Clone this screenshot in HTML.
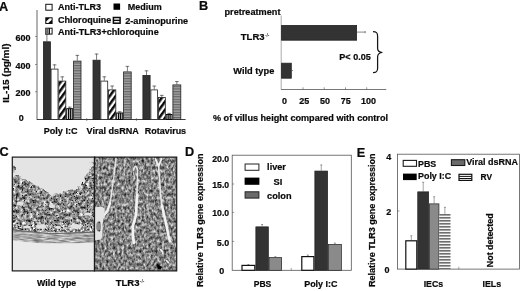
<!DOCTYPE html>
<html lang="en"><head><meta charset="utf-8"><title>Figure</title>
<style>
html,body{margin:0;padding:0;background:#fff;}
body{width:520px;height:291px;overflow:hidden;}
svg{display:block;}
text{font-family:'Liberation Sans', Arial, Helvetica, sans-serif;font-weight:bold;fill:#0a0a0a;stroke:#0a0a0a;stroke-width:0.22;}
</style></head><body>
<svg width="520" height="291" viewBox="0 0 520 291">
<defs>
<pattern id="diag" width="4.8" height="4.8" patternUnits="userSpaceOnUse" patternTransform="rotate(-54)">
<rect width="4.8" height="4.8" fill="#fff"/><rect width="4.8" height="2.5" fill="#0a0a0a"/></pattern>
<pattern id="vstr" x="0.4" width="2.33" height="4" patternUnits="userSpaceOnUse">
<rect width="2.33" height="4" fill="#fff"/><rect width="1.1" height="4" fill="#222"/></pattern>
<pattern id="hstr" width="4" height="2.6" patternUnits="userSpaceOnUse">
<rect width="4" height="2.6" fill="#a2a2a2"/><rect width="4" height="1.2" fill="#666"/></pattern>
<pattern id="rv" y="1.35" width="4" height="3" patternUnits="userSpaceOnUse">
<rect width="4" height="3" fill="#fff"/><rect width="4" height="1.1" fill="#222"/></pattern>
</defs>
<rect width="520" height="291" fill="#fff"/>

<g id="panelA">
<text x="-1.0" y="10.8" font-size="12.7" stroke-width="0.4">A</text>
<line x1="37.00" y1="10.00" x2="37.00" y2="119.90" stroke="#555" stroke-width="0.9"/>
<line x1="37.00" y1="119.50" x2="185.60" y2="119.50" stroke="#2a2a2a" stroke-width="0.9"/>
<text x="30.6" y="95.89999999999999" font-size="9.5" text-anchor="end" textLength="15" lengthAdjust="spacingAndGlyphs" >200</text>
<line x1="35.00" y1="91.70" x2="37.00" y2="91.70" stroke="#555" stroke-width="0.6"/>
<text x="30.6" y="68.7" font-size="9.5" text-anchor="end" textLength="15" lengthAdjust="spacingAndGlyphs" >400</text>
<line x1="35.00" y1="64.50" x2="37.00" y2="64.50" stroke="#555" stroke-width="0.6"/>
<text x="30.6" y="40.699999999999996" font-size="9.5" text-anchor="end" textLength="15" lengthAdjust="spacingAndGlyphs" >600</text>
<line x1="35.00" y1="36.50" x2="37.00" y2="36.50" stroke="#555" stroke-width="0.6"/>
<text x="23.8" y="121.3" font-size="9.5" text-anchor="end" textLength="5" lengthAdjust="spacingAndGlyphs" >0</text>
<text transform="translate(9,73.1) rotate(-90)" font-size="9.5" text-anchor="middle" textLength="59.4" lengthAdjust="spacingAndGlyphs">IL-15 (pg/ml)</text>
<line x1="46.90" y1="41.40" x2="46.90" y2="33.70" stroke="#444" stroke-width="0.7"/>
<line x1="45.10" y1="34.05" x2="48.70" y2="34.05" stroke="#444" stroke-width="0.7"/>
<rect x="43.40" y="41.80" width="7.00" height="77.70" fill="#333" stroke="#222" stroke-width="0.8" />
<line x1="54.55" y1="68.70" x2="54.55" y2="64.50" stroke="#444" stroke-width="0.7"/>
<line x1="52.75" y1="64.85" x2="56.35" y2="64.85" stroke="#444" stroke-width="0.7"/>
<rect x="51.10" y="69.10" width="6.90" height="50.40" fill="#fff" stroke="#222" stroke-width="0.8" />
<line x1="62.30" y1="80.70" x2="62.30" y2="76.50" stroke="#444" stroke-width="0.7"/>
<line x1="60.50" y1="76.85" x2="64.10" y2="76.85" stroke="#444" stroke-width="0.7"/>
<rect x="58.80" y="81.10" width="7.00" height="38.40" fill="url(#diag)" stroke="#222" stroke-width="0.8" />
<line x1="69.70" y1="108.20" x2="69.70" y2="106.80" stroke="#444" stroke-width="0.7"/>
<line x1="67.90" y1="107.15" x2="71.50" y2="107.15" stroke="#444" stroke-width="0.7"/>
<rect x="66.70" y="108.70" width="6.00" height="10.80" fill="#fff" stroke="#0a0a0a" stroke-width="1.0" />
<line x1="68.68" y1="108.60" x2="68.68" y2="119.50" stroke="#0a0a0a" stroke-width="1.35"/>
<line x1="70.72" y1="108.60" x2="70.72" y2="119.50" stroke="#0a0a0a" stroke-width="1.35"/>
<line x1="77.30" y1="60.70" x2="77.30" y2="55.00" stroke="#444" stroke-width="0.7"/>
<line x1="75.50" y1="55.35" x2="79.10" y2="55.35" stroke="#444" stroke-width="0.7"/>
<rect x="73.60" y="61.10" width="7.40" height="58.40" fill="url(#hstr)" stroke="#222" stroke-width="0.8" />
<line x1="96.55" y1="59.80" x2="96.55" y2="53.70" stroke="#444" stroke-width="0.7"/>
<line x1="94.75" y1="54.05" x2="98.35" y2="54.05" stroke="#444" stroke-width="0.7"/>
<rect x="93.00" y="60.20" width="7.10" height="59.30" fill="#333" stroke="#222" stroke-width="0.8" />
<line x1="104.30" y1="80.70" x2="104.30" y2="76.50" stroke="#444" stroke-width="0.7"/>
<line x1="102.50" y1="76.85" x2="106.10" y2="76.85" stroke="#444" stroke-width="0.7"/>
<rect x="100.90" y="81.10" width="6.80" height="38.40" fill="#fff" stroke="#222" stroke-width="0.8" />
<line x1="112.15" y1="89.50" x2="112.15" y2="85.70" stroke="#444" stroke-width="0.7"/>
<line x1="110.35" y1="86.05" x2="113.95" y2="86.05" stroke="#444" stroke-width="0.7"/>
<rect x="108.50" y="89.90" width="7.30" height="29.60" fill="url(#diag)" stroke="#222" stroke-width="0.8" />
<line x1="119.70" y1="112.50" x2="119.70" y2="111.40" stroke="#444" stroke-width="0.7"/>
<line x1="117.90" y1="111.75" x2="121.50" y2="111.75" stroke="#444" stroke-width="0.7"/>
<rect x="116.70" y="113.00" width="6.00" height="6.50" fill="#fff" stroke="#0a0a0a" stroke-width="1.0" />
<line x1="118.68" y1="112.90" x2="118.68" y2="119.50" stroke="#0a0a0a" stroke-width="1.35"/>
<line x1="120.72" y1="112.90" x2="120.72" y2="119.50" stroke="#0a0a0a" stroke-width="1.35"/>
<line x1="127.40" y1="71.50" x2="127.40" y2="66.00" stroke="#444" stroke-width="0.7"/>
<line x1="125.60" y1="66.35" x2="129.20" y2="66.35" stroke="#444" stroke-width="0.7"/>
<rect x="123.60" y="71.90" width="7.60" height="47.60" fill="url(#hstr)" stroke="#222" stroke-width="0.8" />
<line x1="146.50" y1="75.00" x2="146.50" y2="70.50" stroke="#444" stroke-width="0.7"/>
<line x1="144.70" y1="70.85" x2="148.30" y2="70.85" stroke="#444" stroke-width="0.7"/>
<rect x="142.90" y="75.40" width="7.20" height="44.10" fill="#333" stroke="#222" stroke-width="0.8" />
<line x1="154.25" y1="89.50" x2="154.25" y2="85.70" stroke="#444" stroke-width="0.7"/>
<line x1="152.45" y1="86.05" x2="156.05" y2="86.05" stroke="#444" stroke-width="0.7"/>
<rect x="150.90" y="89.90" width="6.70" height="29.60" fill="#fff" stroke="#222" stroke-width="0.8" />
<line x1="161.85" y1="97.00" x2="161.85" y2="95.00" stroke="#444" stroke-width="0.7"/>
<line x1="160.05" y1="95.35" x2="163.65" y2="95.35" stroke="#444" stroke-width="0.7"/>
<rect x="158.40" y="97.40" width="6.90" height="22.10" fill="url(#diag)" stroke="#222" stroke-width="0.8" />
<line x1="169.10" y1="114.00" x2="169.10" y2="113.00" stroke="#444" stroke-width="0.7"/>
<line x1="167.30" y1="113.35" x2="170.90" y2="113.35" stroke="#444" stroke-width="0.7"/>
<rect x="166.20" y="114.50" width="5.80" height="5.00" fill="#fff" stroke="#0a0a0a" stroke-width="1.0" />
<line x1="168.12" y1="114.40" x2="168.12" y2="119.50" stroke="#0a0a0a" stroke-width="1.35"/>
<line x1="170.08" y1="114.40" x2="170.08" y2="119.50" stroke="#0a0a0a" stroke-width="1.35"/>
<line x1="176.85" y1="84.50" x2="176.85" y2="81.20" stroke="#444" stroke-width="0.7"/>
<line x1="175.05" y1="81.55" x2="178.65" y2="81.55" stroke="#444" stroke-width="0.7"/>
<rect x="172.90" y="84.90" width="7.90" height="34.60" fill="url(#hstr)" stroke="#222" stroke-width="0.8" />
<line x1="86.70" y1="118.00" x2="86.70" y2="121.00" stroke="#555" stroke-width="0.6"/>
<line x1="136.40" y1="118.00" x2="136.40" y2="121.00" stroke="#555" stroke-width="0.6"/>
<text x="43.7" y="134" font-size="9.5" textLength="33.8" lengthAdjust="spacingAndGlyphs" >Poly I:C</text>
<text x="86.6" y="134" font-size="9.5" textLength="52.2" lengthAdjust="spacingAndGlyphs" >Viral dsRNA</text>
<text x="144.8" y="134" font-size="9.5" textLength="41.3" lengthAdjust="spacingAndGlyphs" >Rotavirus</text>
<rect x="45.80" y="4.30" width="6.30" height="5.90" fill="#fff" stroke="#111" stroke-width="1.0" />
<text x="58" y="9.9" font-size="9.5" textLength="43" lengthAdjust="spacingAndGlyphs" >Anti-TLR3</text>
<rect x="113.50" y="3.50" width="6.60" height="6.30" fill="#000" stroke="#000" stroke-width="0" />
<text x="127.7" y="10.1" font-size="9.5" textLength="34" lengthAdjust="spacingAndGlyphs" >Medium</text>
<rect x="45.80" y="17.80" width="6.30" height="5.70" fill="#0a0a0a" stroke="#111" stroke-width="1.0" />
<polygon points="46.3,23 46.3,21.2 49.6,18.3 51.6,18.3 51.6,20 48.3,23" fill="#fff"/>
<text x="58" y="22.8" font-size="9.5" textLength="53.3" lengthAdjust="spacingAndGlyphs" >Chloroquine</text>
<rect x="113.40" y="17.50" width="6.70" height="5.70" fill="#fff" stroke="#0a0a0a" stroke-width="1.5" />
<line x1="113.40" y1="20.35" x2="120.10" y2="20.35" stroke="#0a0a0a" stroke-width="1.4"/>
<text x="125.2" y="23.6" font-size="9.5" textLength="63.0" lengthAdjust="spacingAndGlyphs" >2-aminopurine</text>
<rect x="45.80" y="28.20" width="6.30" height="5.90" fill="#fff" stroke="#111" stroke-width="1.0" />
<rect x="46.20" y="28.60" width="2.00" height="5.10" fill="#666" stroke="none" stroke-width="0" />
<line x1="49.30" y1="28.20" x2="49.30" y2="34.10" stroke="#0a0a0a" stroke-width="1.3"/>
<text x="58" y="34.5" font-size="9.5" textLength="100.7" lengthAdjust="spacingAndGlyphs" >Anti-TLR3+chloroquine</text>
</g>
<g id="panelB">
<text x="199.1" y="10.4" font-size="12.7" stroke-width="0.4">B</text>
<text x="224.5" y="14.5" font-size="9.5" textLength="56" lengthAdjust="spacingAndGlyphs" >pretreatment</text>
<line x1="281.20" y1="15.50" x2="281.20" y2="89.90" stroke="#888" stroke-width="0.7"/>
<line x1="281.20" y1="89.50" x2="386.30" y2="89.50" stroke="#555" stroke-width="0.8"/>
<line x1="303.00" y1="89.50" x2="303.00" y2="87.30" stroke="#666" stroke-width="0.7"/>
<line x1="324.20" y1="89.50" x2="324.20" y2="87.30" stroke="#666" stroke-width="0.7"/>
<line x1="345.50" y1="89.50" x2="345.50" y2="87.30" stroke="#666" stroke-width="0.7"/>
<line x1="366.70" y1="89.50" x2="366.70" y2="87.30" stroke="#666" stroke-width="0.7"/>
<text x="284.5" y="104.1" font-size="9.5" text-anchor="middle" textLength="5" lengthAdjust="spacingAndGlyphs" >0</text>
<text x="304.2" y="104.1" font-size="9.5" text-anchor="middle" textLength="10" lengthAdjust="spacingAndGlyphs" >25</text>
<text x="325" y="104.1" font-size="9.5" text-anchor="middle" textLength="10" lengthAdjust="spacingAndGlyphs" >50</text>
<text x="345.8" y="104.1" font-size="9.5" text-anchor="middle" textLength="10" lengthAdjust="spacingAndGlyphs" >75</text>
<text x="368.4" y="104.1" font-size="9.5" text-anchor="middle" textLength="15" lengthAdjust="spacingAndGlyphs" >100</text>
<rect x="281.60" y="25.40" width="75.00" height="14.80" fill="#333" stroke="#222" stroke-width="0.8" />
<line x1="357.00" y1="32.10" x2="365.20" y2="32.10" stroke="#555" stroke-width="0.7"/>
<line x1="365.20" y1="31.00" x2="365.20" y2="33.20" stroke="#555" stroke-width="0.7"/>
<rect x="281.60" y="63.20" width="9.70" height="15.00" fill="#333" stroke="#222" stroke-width="0.8" />
<line x1="291.70" y1="70.50" x2="293.00" y2="70.50" stroke="#555" stroke-width="0.7"/>
<text x="240.8" y="39.5" font-size="9.5">TLR3<tspan font-size="4.8" dy="-2.9" dx="0.4" stroke="none" fill="#333">-/-</tspan></text>
<text x="233.3" y="73.6" font-size="9.5" textLength="41.0" lengthAdjust="spacingAndGlyphs" >Wild type</text>
<text x="339.3" y="60.2" font-size="9.8" textLength="31.5" lengthAdjust="spacingAndGlyphs" >P&lt; 0.05</text>
<path d="M373 31.6 C376.6 31.6 377.6 32.8 377.6 36 L377.6 48.2 C377.6 51 378.8 52.2 382.4 52.5 C378.8 52.8 377.6 54 377.6 57 L377.6 68.2 C377.6 71.4 376.6 72.6 373 72.6" fill="none" stroke="#151515" stroke-width="1.25"/>
<text x="213" y="120.7" font-size="9.5" textLength="175" lengthAdjust="spacingAndGlyphs" >% of villus height compared with control</text>
</g>
<g id="panelC">
<text x="-0.5" y="156.4" font-size="12.7" stroke-width="0.4">C</text>

<clipPath id="clipL"><rect x="12.3" y="157.1" width="82.2" height="113.8"/></clipPath>
<clipPath id="clipR"><rect x="94.5" y="157.1" width="82.2" height="113.8"/></clipPath>
<filter id="nzT" x="-5%" y="-5%" width="110%" height="110%" color-interpolation-filters="sRGB">
<feTurbulence type="fractalNoise" baseFrequency="0.2" numOctaves="2" seed="5" result="d"/>
<feDisplacementMap in="SourceGraphic" in2="d" scale="7" xChannelSelector="R" yChannelSelector="G" result="shape"/>
<feTurbulence type="fractalNoise" baseFrequency="0.3" numOctaves="3" seed="7" result="t"/>
<feColorMatrix in="t" type="matrix" values="1.35 0 0 0 -0.105  1.35 0 0 0 -0.105  1.35 0 0 0 -0.105  0 0 0 0 1" result="g"/>
<feGaussianBlur in="g" stdDeviation="0.4" result="gb"/>
<feComposite in="gb" in2="shape" operator="in"/>
</filter>
<filter id="nzS" x="0" y="0" width="100%" height="100%" color-interpolation-filters="sRGB">
<feTurbulence type="fractalNoise" baseFrequency="0.4" numOctaves="2" seed="21" result="t"/>
<feColorMatrix in="t" type="matrix" values="1.8 0 0 0 -0.280  1.8 0 0 0 -0.280  1.8 0 0 0 -0.280  0 0 0 0 1" result="g"/>
<feGaussianBlur in="g" stdDeviation="0.4" result="gb"/>
<feComposite in="gb" in2="SourceGraphic" operator="in"/>
</filter>
<filter id="spk" x="0" y="0" width="100%" height="100%" color-interpolation-filters="sRGB">
<feTurbulence type="fractalNoise" baseFrequency="0.55" numOctaves="2" seed="31" result="t"/>
<feColorMatrix in="t" type="matrix" values="0 0 0 0 0.08  0 0 0 0 0.08  0 0 0 0 0.08  7 0 0 0 -4.25" result="g"/>
<feGaussianBlur in="g" stdDeviation="0.35" result="gb"/>
<feComposite in="gb" in2="SourceGraphic" operator="in"/>
</filter>
<filter id="nzB" x="0" y="0" width="100%" height="100%" color-interpolation-filters="sRGB">
<feTurbulence type="fractalNoise" baseFrequency="0.12 0.7" numOctaves="2" seed="3" result="t"/>
<feColorMatrix in="t" type="matrix" values="0.75 0 0 0 0.285  0.75 0 0 0 0.285  0.75 0 0 0 0.285  0 0 0 0 1" result="g"/>
<feComposite in="g" in2="SourceGraphic" operator="in"/>
</filter>
<filter id="nzR" x="0" y="0" width="100%" height="100%" color-interpolation-filters="sRGB">
<feTurbulence type="fractalNoise" baseFrequency="0.45 0.3" numOctaves="2" seed="11" result="t"/>
<feColorMatrix in="t" type="matrix" values="1.15 0 0 0 -0.060  1.15 0 0 0 -0.060  1.15 0 0 0 -0.060  0 0 0 0 1" result="g"/>
<feGaussianBlur in="g" stdDeviation="0.45" result="gb"/>
<feComposite in="gb" in2="SourceGraphic" operator="in"/>
</filter>
<filter id="bl1" x="-20%" y="-20%" width="140%" height="140%"><feGaussianBlur stdDeviation="0.7"/></filter>
<filter id="bl2" x="-20%" y="-20%" width="140%" height="140%"><feGaussianBlur stdDeviation="1.4"/></filter>

<g clip-path="url(#clipL)">
<rect x="12" y="156.6" width="82.5" height="115" fill="#e4e4e4"/>
<path d="M11 212 L96 214 L96 233 L11 232 Z" fill="#ccc" filter="url(#nzS)"/>
<path d="M11 175 L13.6 176 L20 177.5 L26.5 180 L32 183 L37 186.5 L43 190 L48 193 L54 195 L61 193 L65 191.5 L69 190.8 L75 190 L80 187.5 L83 183 L85.5 178 L89 171 L91.5 164 L93.5 160 L96 158 L96 223 L84 224 L70 221 L60 225 L48 224 L36 221 L24 222 L11 219 Z M12 167 L15 166.5 L17 169 L16 172.5 L12 173 Z" fill="#666" filter="url(#nzT)"/>
<path d="M11 177 L30 183 L52 197 L75 191 L88 174 L96 160 L96 231 L11 230 Z" fill="#000" filter="url(#spk)"/>
<g fill="#e2e2e2" filter="url(#bl1)">
<ellipse cx="41.5" cy="226.5" rx="5" ry="2.3"/><ellipse cx="76" cy="226.5" rx="6" ry="2.6"/><ellipse cx="20" cy="203.5" rx="3.4" ry="2"/><ellipse cx="58" cy="227.5" rx="3" ry="1.4"/><ellipse cx="52" cy="206" rx="3" ry="2"/><ellipse cx="27" cy="227" rx="4" ry="1.3"/><ellipse cx="88" cy="214" rx="4" ry="1.6"/>
</g>
<path d="M11 229.3 L30 231.5 L51 233.5 L76 232.5 L96 231.8 L96 242.5 L76 243.4 L43 243.4 L25 242 L11 240 Z" fill="#8e8e8e" filter="url(#nzB)"/>
<path d="M11 229.6 L30 231.8 L51 233.8 L76 232.8 L96 232.1" fill="none" stroke="#666" stroke-width="1.1" filter="url(#bl1)"/>
<path d="M11 240 L25 242 L43 243.4 L76 243.4 L96 242.5 L96 272 L11 272 Z" fill="#ebebeb"/>
</g>
<rect x="12.30" y="157.10" width="82.20" height="113.80" fill="none" stroke="#1a1a1a" stroke-width="1.2" />
<g clip-path="url(#clipR)">
<rect x="94" y="156.6" width="83" height="115" fill="#909090" filter="url(#nzR)"/>
<g fill="none" stroke="#f2f2f2" stroke-linecap="round" stroke-linejoin="round" filter="url(#bl1)">
<path d="M116 158 L113.5 180 L110 203" stroke-width="1.5" opacity="0.85"/>
<path d="M110 203 L107.5 211 L103.5 216" stroke-width="2.3"/>
<path d="M133.5 170 Q135.8 163 137.6 170 L137 195" stroke-width="1.6" opacity="0.9"/>
<path d="M137 195 L136 215 L132.9 226 L133 236 L133.8 243" stroke-width="2.7"/>
<path d="M155.5 159 L158.5 166 L161.5 159" stroke-width="1.8"/>
<path d="M158.5 165 L160.6 195 L162 206" stroke-width="1.7" opacity="0.9"/>
<path d="M162 206 L165.7 222 L168.6 236 L169.9 241.5" stroke-width="2.6"/>
<path d="M149.5 203 L148 215" stroke-width="1.1" opacity="0.6"/>
<path d="M125 160 L124 176" stroke-width="1.1" opacity="0.5"/>
<path d="M160.6 249.5 L162.6 252" stroke-width="1.6"/><path d="M166.6 260.5 L168.2 262.5" stroke-width="1.6"/>
</g>
<path d="M94 207.5 C99 206 103 206.5 104.6 208.5 C105.2 214 103 219 102.6 226 C102.2 232 103.2 236 101 239.5 L94 240.5 Z" fill="#e4e4e4" filter="url(#bl1)"/>
<ellipse cx="98.6" cy="226.5" rx="2.4" ry="5" fill="#8c8c8c" filter="url(#bl1)"/>
<circle cx="99.4" cy="222.4" r="0.9" fill="#333"/><circle cx="99.4" cy="230.6" r="0.9" fill="#333"/>
<path d="M156.5 263.5 L162 267 L160.5 269.8 L157.5 268.5 Z" fill="#000"/>
</g>
<rect x="94.50" y="157.10" width="82.20" height="113.80" fill="none" stroke="#1a1a1a" stroke-width="1.2" />
<text x="37" y="286" font-size="9.5" textLength="39.2" lengthAdjust="spacingAndGlyphs" >Wild type</text>
<text x="115.7" y="286.2" font-size="9.5">TLR3<tspan font-size="4.8" dy="-2.9" dx="0.4" stroke="none" fill="#333">-/-</tspan></text>
</g>
<g id="panelD">
<text x="185.1" y="156.4" font-size="12.7" stroke-width="0.4">D</text>
<text transform="translate(202.6,220.2) rotate(-90)" font-size="9.9" text-anchor="middle" textLength="133.6" lengthAdjust="spacingAndGlyphs">Relative TLR3 gene expression</text>
<rect x="232.20" y="155.20" width="119.10" height="115.10" fill="none" stroke="#555" stroke-width="0.8" />
<text x="229.2" y="246.1" font-size="9.9" text-anchor="end" textLength="12.4" lengthAdjust="spacingAndGlyphs" >5.0</text>
<line x1="232.20" y1="241.40" x2="234.20" y2="241.40" stroke="#555" stroke-width="0.6"/>
<text x="229.2" y="216.3" font-size="9.9" text-anchor="end" textLength="16.9" lengthAdjust="spacingAndGlyphs" >10.0</text>
<line x1="232.20" y1="212.40" x2="234.20" y2="212.40" stroke="#555" stroke-width="0.6"/>
<text x="229.2" y="188.1" font-size="9.9" text-anchor="end" textLength="16.9" lengthAdjust="spacingAndGlyphs" >15.0</text>
<line x1="232.20" y1="184.00" x2="234.20" y2="184.00" stroke="#555" stroke-width="0.6"/>
<text x="229.2" y="162.2" font-size="9.9" text-anchor="end" textLength="16.9" lengthAdjust="spacingAndGlyphs" >20.0</text>
<text x="224.2" y="274.1" font-size="9.9" text-anchor="end" textLength="5" lengthAdjust="spacingAndGlyphs" >0</text>
<line x1="291.20" y1="270.30" x2="291.20" y2="267.90" stroke="#666" stroke-width="0.6"/>
<line x1="248.40" y1="264.80" x2="248.40" y2="264.20" stroke="#666" stroke-width="0.6"/>
<line x1="247.40" y1="264.50" x2="249.40" y2="264.50" stroke="#666" stroke-width="0.6"/>
<rect x="242.00" y="265.40" width="12.80" height="4.90" fill="#fff" stroke="#111" stroke-width="1.2" />
<line x1="262.10" y1="226.50" x2="262.10" y2="224.20" stroke="#666" stroke-width="0.6"/>
<line x1="261.10" y1="224.50" x2="263.10" y2="224.50" stroke="#666" stroke-width="0.6"/>
<rect x="255.85" y="226.85" width="12.50" height="43.45" fill="#333" stroke="#222" stroke-width="0.7" />
<line x1="275.35" y1="257.20" x2="275.35" y2="256.40" stroke="#666" stroke-width="0.6"/>
<line x1="274.35" y1="256.70" x2="276.35" y2="256.70" stroke="#666" stroke-width="0.6"/>
<rect x="269.05" y="257.55" width="12.60" height="12.75" fill="#8a8a8a" stroke="#222" stroke-width="0.7" />
<line x1="307.85" y1="256.00" x2="307.85" y2="254.80" stroke="#666" stroke-width="0.6"/>
<line x1="306.85" y1="255.10" x2="308.85" y2="255.10" stroke="#666" stroke-width="0.6"/>
<rect x="301.80" y="256.60" width="12.10" height="13.70" fill="#fff" stroke="#111" stroke-width="1.2" />
<line x1="321.25" y1="170.70" x2="321.25" y2="164.70" stroke="#666" stroke-width="0.6"/>
<line x1="320.25" y1="165.00" x2="322.25" y2="165.00" stroke="#666" stroke-width="0.6"/>
<rect x="314.85" y="171.05" width="12.80" height="99.25" fill="#333" stroke="#222" stroke-width="0.7" />
<line x1="334.85" y1="244.00" x2="334.85" y2="242.80" stroke="#666" stroke-width="0.6"/>
<line x1="333.85" y1="243.10" x2="335.85" y2="243.10" stroke="#666" stroke-width="0.6"/>
<rect x="328.35" y="244.35" width="13.00" height="25.95" fill="#8a8a8a" stroke="#222" stroke-width="0.7" />
<rect x="245.10" y="164.00" width="13.80" height="6.30" fill="#fff" stroke="#222" stroke-width="1.0" />
<rect x="244.60" y="177.60" width="14.80" height="7.20" fill="#000" stroke="#000" stroke-width="0" />
<rect x="245.10" y="191.80" width="13.80" height="6.30" fill="#6a6a6a" stroke="#222" stroke-width="1.0" />
<text x="267.1" y="170.2" font-size="9.9" textLength="18.8" lengthAdjust="spacingAndGlyphs" >liver</text>
<text x="273.5" y="184.7" font-size="9.9" textLength="8.8" lengthAdjust="spacingAndGlyphs" >SI</text>
<text x="267.1" y="198.7" font-size="9.9" textLength="24.5" lengthAdjust="spacingAndGlyphs" >colon</text>
<text x="253.7" y="286.9" font-size="9.9" textLength="17.6" lengthAdjust="spacingAndGlyphs" >PBS</text>
<text x="304.2" y="286.9" font-size="9.9" textLength="33.3" lengthAdjust="spacingAndGlyphs" >Poly I:C</text>
</g>
<g id="panelE">
<text x="356.8" y="156.8" font-size="12.7" stroke-width="0.4">E</text>
<text transform="translate(374.9,220.2) rotate(-90)" font-size="9.9" text-anchor="middle" textLength="133.6" lengthAdjust="spacingAndGlyphs">Relative TLR3 gene expression</text>
<rect x="397.50" y="154.20" width="121.90" height="114.90" fill="none" stroke="#555" stroke-width="0.8" />
<text x="391.2" y="159.5" font-size="9.9" text-anchor="end" textLength="5" lengthAdjust="spacingAndGlyphs" >4</text>
<text x="391.2" y="215.2" font-size="9.9" text-anchor="end" textLength="5" lengthAdjust="spacingAndGlyphs" >2</text>
<text x="389.6" y="273.0" font-size="9.9" text-anchor="end" textLength="5" lengthAdjust="spacingAndGlyphs" >0</text>
<line x1="397.50" y1="211.00" x2="399.50" y2="211.00" stroke="#555" stroke-width="0.6"/>
<line x1="458.80" y1="269.10" x2="458.80" y2="266.70" stroke="#666" stroke-width="0.6"/>
<line x1="411.30" y1="240.20" x2="411.30" y2="235.50" stroke="#666" stroke-width="0.6"/>
<line x1="410.30" y1="235.80" x2="412.30" y2="235.80" stroke="#666" stroke-width="0.6"/>
<rect x="405.80" y="240.80" width="11.00" height="28.30" fill="#fff" stroke="#111" stroke-width="1.2" />
<line x1="423.20" y1="191.50" x2="423.20" y2="182.00" stroke="#666" stroke-width="0.6"/>
<line x1="422.20" y1="182.30" x2="424.20" y2="182.30" stroke="#666" stroke-width="0.6"/>
<rect x="417.75" y="191.85" width="10.90" height="77.25" fill="#333" stroke="#222" stroke-width="0.7" />
<line x1="434.15" y1="203.50" x2="434.15" y2="196.50" stroke="#666" stroke-width="0.6"/>
<line x1="433.15" y1="196.80" x2="435.15" y2="196.80" stroke="#666" stroke-width="0.6"/>
<rect x="429.35" y="203.85" width="9.60" height="65.25" fill="#8a8a8a" stroke="#222" stroke-width="0.7" />
<line x1="444.90" y1="214.00" x2="444.90" y2="207.00" stroke="#666" stroke-width="0.6"/>
<line x1="443.90" y1="207.30" x2="445.90" y2="207.30" stroke="#666" stroke-width="0.6"/>
<rect x="439.30" y="214.00" width="11.20" height="55.10" fill="url(#rv)" stroke="none" stroke-width="0" />
<rect x="403.20" y="160.40" width="13.30" height="5.90" fill="#fff" stroke="#1a1a1a" stroke-width="1.1" />
<text x="418" y="167" font-size="9.9" textLength="18.2" lengthAdjust="spacingAndGlyphs" >PBS</text>
<rect x="403.00" y="173.60" width="13.70" height="6.50" fill="#000" stroke="#000" stroke-width="0" />
<text x="418" y="179.4" font-size="9.9" textLength="33.2" lengthAdjust="spacingAndGlyphs" >Poly I:C</text>
<rect x="451.40" y="159.70" width="13.40" height="5.80" fill="#6a6a6a" stroke="#1a1a1a" stroke-width="1.1" />
<text x="466.2" y="165.4" font-size="9.9" textLength="51.8" lengthAdjust="spacingAndGlyphs" >Viral dsRNA</text>
<rect x="459.00" y="174.30" width="12.80" height="6.10" fill="#fff" stroke="#111" stroke-width="1.2" />
<line x1="459.10" y1="176.40" x2="471.60" y2="176.40" stroke="#111" stroke-width="1.0"/>
<line x1="459.10" y1="178.50" x2="471.60" y2="178.50" stroke="#111" stroke-width="1.0"/>
<text x="480.5" y="180.4" font-size="9.9" textLength="11.5" lengthAdjust="spacingAndGlyphs" >RV</text>
<text transform="translate(493,240.3) rotate(-90)" font-size="9.9" text-anchor="middle" textLength="53.7" lengthAdjust="spacingAndGlyphs">Not detected</text>
<text x="423.7" y="286.7" font-size="9.9" textLength="19.5" lengthAdjust="spacingAndGlyphs" >IECs</text>
<text x="482.5" y="286.7" font-size="9.9" textLength="18.7" lengthAdjust="spacingAndGlyphs" >IELs</text>
</g>
</svg></body></html>
